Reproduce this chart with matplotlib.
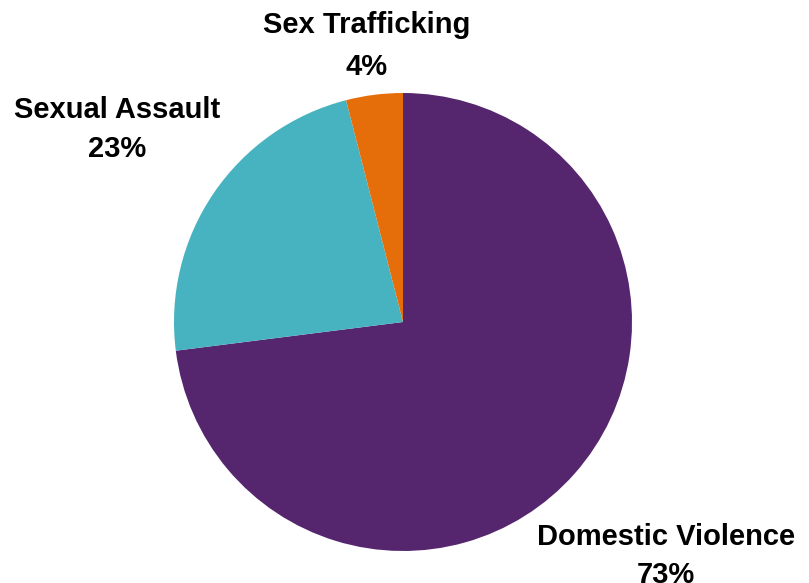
import matplotlib
matplotlib.use('Agg')
import matplotlib.pyplot as plt

labels = ['Domestic Violence', 'Sexual Assault', 'Sex Trafficking']
values = [73, 23, 4]
colors = ['#55266E', '#48B3C0', '#E66E0A']

# label text placement, pixel coords (x center, baseline of first line, baseline of second)
label_pos = [(666, 545, 583), (117, 118, 157), (367, 33, 75)]
FONTSIZE = 21

W, H = 809, 583
fig = plt.figure(figsize=(W / 100, H / 100), dpi=100)

cx, cy, r = 403, 322, 229
ax = fig.add_axes([(cx - r) / W, (H - cy - r) / H, 2 * r / W, 2 * r / H])
ax.pie(values, colors=colors, startangle=90, counterclock=False,
       wedgeprops=dict(linewidth=0))
ax.set_xlim(-1, 1)
ax.set_ylim(-1, 1)
ax.set_aspect('auto')
ax.axis('off')

for lab, val, (px, py1, py2) in zip(labels, values, label_pos):
    fig.text(px / W, (H - py1) / H, lab, ha='center', va='baseline',
             fontsize=FONTSIZE, fontweight='bold', family='Liberation Sans')
    fig.text(px / W, (H - py2) / H, str(val) + '%', ha='center', va='baseline',
             fontsize=FONTSIZE, fontweight='bold', family='Liberation Sans')

plt.savefig('out.png', dpi=100)
